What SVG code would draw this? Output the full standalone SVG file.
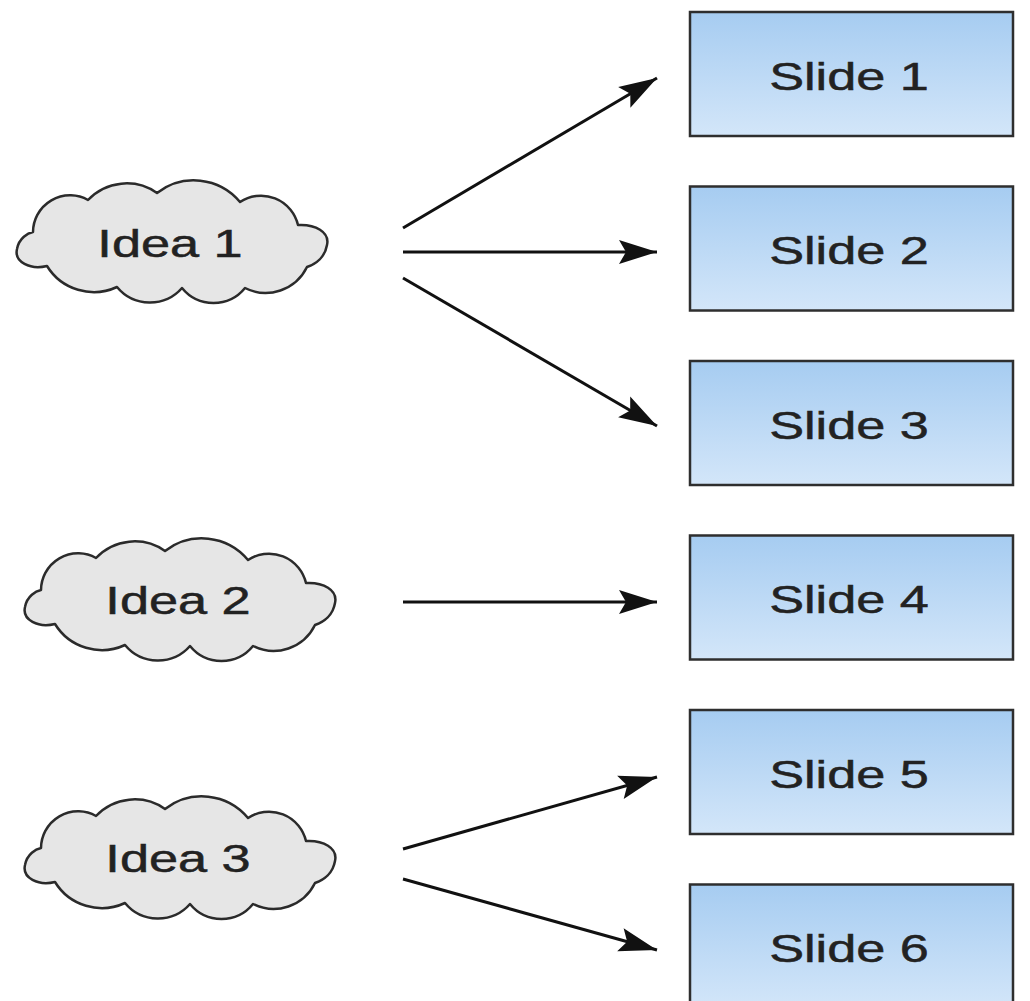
<svg xmlns="http://www.w3.org/2000/svg" width="1030" height="1001" viewBox="0 0 1030 1001">
  <style>
    .cloud { fill: #e6e6e6; stroke: #2b2b2b; stroke-width: 2.5; stroke-linejoin: round; }
    .slide { fill: url(#slideFill); stroke: #2e2e2e; stroke-width: 2.5; }
    .label { font-family: "Liberation Sans", Arial, sans-serif; font-size: 39px; fill: #222; stroke: #222; stroke-width: 0.5; text-anchor: middle; }
    .link { stroke: #111; stroke-width: 3; fill: none; marker-end: url(#arrow); }
  </style>
  <defs>
    <linearGradient id="slideFill" x1="0" y1="0" x2="0" y2="1">
      <stop offset="0" stop-color="#a6ccf1"/>
      <stop offset="1" stop-color="#d3e6f9"/>
    </linearGradient>
    <marker id="arrow" markerUnits="userSpaceOnUse" markerWidth="42" markerHeight="28" viewBox="0 -14 40 28" refX="38" refY="0" orient="auto">
      <path d="M0,-12 L38,0 L0,12 L7,0 Z" fill="#111"/>
    </marker>
    <!-- cloud outline, drawn around the Idea 1 position -->
    <path id="cloudShape" d="M33,232 A37,37 0 0 1 88,200 A53,53 0 0 1 157,193 A60,60 0 0 1 240,202 A38,38 0 0 1 298,225 C315,224 330,232 327,245 C325,257 316,264 307,267 A46,46 0 0 1 245,288 A40.6,40.6 0 0 1 182,288 A42.7,42.7 0 0 1 117,287 A55,55 0 0 1 47,266 C30,270 14,262 17,249 C19,238 28,233 33,232 Z"/>
  </defs>

  <g id="connectors">
    <line class="link" x1="403" y1="228" x2="657" y2="78"/>
    <line class="link" x1="403" y1="252" x2="657" y2="252"/>
    <line class="link" x1="403" y1="278" x2="657" y2="426"/>
    <line class="link" x1="403" y1="602" x2="657" y2="602"/>
    <line class="link" x1="403" y1="849" x2="657" y2="777"/>
    <line class="link" x1="403" y1="879" x2="657" y2="950"/>
  </g>

  <g id="idea1">
    <use href="#cloudShape" class="cloud"/>
    <text class="label" transform="translate(170,257) scale(1.34,1)">Idea 1</text>
  </g>
  <g id="idea2">
    <use href="#cloudShape" class="cloud" transform="translate(8,358)"/>
    <text class="label" transform="translate(178,614) scale(1.34,1)">Idea 2</text>
  </g>
  <g id="idea3">
    <use href="#cloudShape" class="cloud" transform="translate(8,616)"/>
    <text class="label" transform="translate(178,872) scale(1.34,1)">Idea 3</text>
  </g>

  <g id="slide1">
    <rect class="slide" x="690" y="12" width="323" height="124"/>
    <text class="label" transform="translate(849,90) scale(1.34,1)">Slide 1</text>
  </g>
  <g id="slide2">
    <rect class="slide" x="690" y="186.5" width="323" height="124"/>
    <text class="label" transform="translate(849,264) scale(1.34,1)">Slide 2</text>
  </g>
  <g id="slide3">
    <rect class="slide" x="690" y="361" width="323" height="124"/>
    <text class="label" transform="translate(849,439) scale(1.34,1)">Slide 3</text>
  </g>
  <g id="slide4">
    <rect class="slide" x="690" y="535.5" width="323" height="124"/>
    <text class="label" transform="translate(849,613) scale(1.34,1)">Slide 4</text>
  </g>
  <g id="slide5">
    <rect class="slide" x="690" y="710" width="323" height="124"/>
    <text class="label" transform="translate(849,788) scale(1.34,1)">Slide 5</text>
  </g>
  <g id="slide6">
    <rect class="slide" x="690" y="884.5" width="323" height="124"/>
    <text class="label" transform="translate(849,962) scale(1.34,1)">Slide 6</text>
  </g>
</svg>
